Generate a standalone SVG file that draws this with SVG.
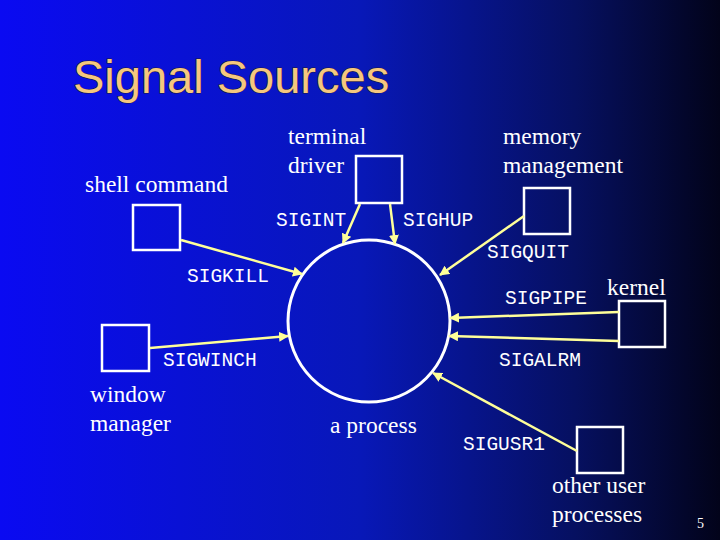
<svg xmlns="http://www.w3.org/2000/svg" width="720" height="540" viewBox="0 0 720 540">
<defs>
<linearGradient id="bg" x1="0" y1="0" x2="1" y2="0">
<stop offset="0" stop-color="#0a0af2"/>
<stop offset="0.5" stop-color="#0818b8"/>
<stop offset="0.8" stop-color="#061060"/>
<stop offset="1" stop-color="#02031a"/>
</linearGradient>
<marker id="ah" viewBox="0 0 10 10" refX="9" refY="5" markerWidth="4" markerHeight="4" orient="auto"><path d="M0,0L10,5L0,10z" fill="#ffff99"/></marker>
<style>
.box{fill:none;stroke:#fff;stroke-width:2.5}
.ser{font-family:"Liberation Serif",serif;font-size:23.5px;fill:#fff}
.mono{font-family:"Liberation Mono",monospace;font-size:19.5px;fill:#fff}
.c{stroke:#ffff99;stroke-width:2.5;fill:none;marker-end:url(#ah)}
</style>
</defs>
<rect width="720" height="540" fill="url(#bg)"/>
<text x="73" y="93" font-family="Liberation Sans,Arial,sans-serif" font-size="47" fill="#f5c77e" style="paint-order:stroke" stroke="#1a1a40" stroke-width="1">Signal Sources</text>
<g id="process"><circle cx="369" cy="321" r="81" fill="none" stroke="#fff" stroke-width="3"/><text class="ser" x="330" y="433">a process</text></g>
<g id="shell"><rect class="box" x="133" y="205" width="47" height="45"/><text class="ser" x="85" y="192">shell command</text></g>
<g id="terminal"><rect class="box" x="356" y="156" width="46" height="47"/><text class="ser" x="288" y="144">terminal</text><text class="ser" x="288" y="173">driver</text></g>
<g id="memory"><rect class="box" x="524" y="188" width="46" height="46"/><text class="ser" x="503" y="144">memory</text><text class="ser" x="503" y="173">management</text></g>
<g id="kernel"><rect class="box" x="619" y="301" width="46" height="46"/><text class="ser" x="607" y="295">kernel</text></g>
<g id="other"><rect class="box" x="577" y="427" width="46" height="46"/><text class="ser" x="552" y="493">other user</text><text class="ser" x="552" y="522">processes</text></g>
<g id="window"><rect class="box" x="102" y="325" width="47" height="46"/><text class="ser" x="90" y="402">window</text><text class="ser" x="90" y="431">manager</text></g>
<g id="connectors">
<line class="c" x1="181" y1="240" x2="302" y2="274"/>
<line class="c" x1="360" y1="204" x2="343" y2="243"/>
<line class="c" x1="390" y1="204" x2="395" y2="244"/>
<line class="c" x1="524" y1="216" x2="440" y2="275"/>
<line class="c" x1="619" y1="312" x2="450" y2="318"/>
<line class="c" x1="619" y1="341" x2="449" y2="336"/>
<line class="c" x1="577" y1="451" x2="433" y2="373"/>
<line class="c" x1="150" y1="348" x2="288" y2="336"/>
</g>
<g id="labels">
<text class="mono" x="276" y="226">SIGINT</text>
<text class="mono" x="403" y="226">SIGHUP</text>
<text class="mono" x="487" y="258">SIGQUIT</text>
<text class="mono" x="187" y="282">SIGKILL</text>
<text class="mono" x="505" y="304">SIGPIPE</text>
<text class="mono" x="163" y="366">SIGWINCH</text>
<text class="mono" x="499" y="366">SIGALRM</text>
<text class="mono" x="463" y="450">SIGUSR1</text>
<text x="697" y="528" font-family="Liberation Serif,serif" font-size="14" fill="#fff">5</text>
</g>
</svg>
